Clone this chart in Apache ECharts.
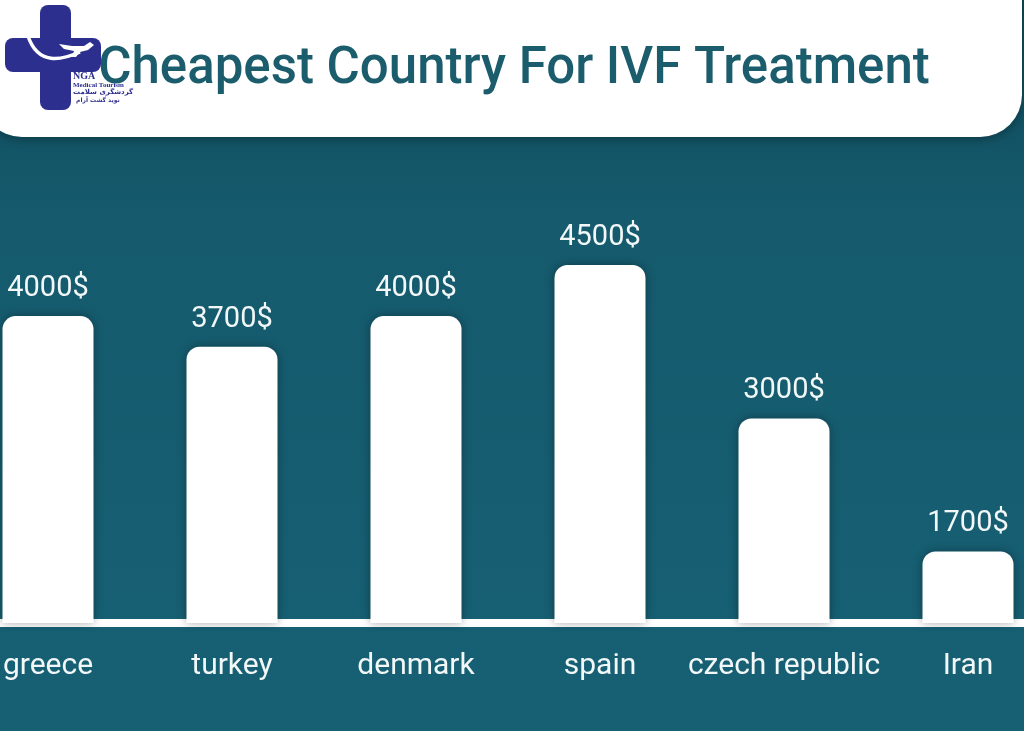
<!DOCTYPE html>
<html>
<head>
<meta charset="utf-8">
<script src="https://cdn.jsdelivr.net/npm/echarts@6/dist/echarts.min.js"></script>
<style>
html,body{margin:0;padding:0;background:#165c70;}
#c{width:1024px;height:731px;}
</style>
</head>
<body>
<div id="c"></div>
<script>
const titleText = 'Cheapest Country For IVF Treatment';
const categories = ['greece', 'turkey', 'denmark', 'spain', 'czech republic', 'Iran'];
const costs = [4000, 3700, 4000, 4500, 3000, 1700];
const valueSuffix = '$';

const chart = echarts.init(document.getElementById('c'));
const Z = 20;
const option = {
  backgroundColor: {
    type: 'linear', x: 0, y: 0, x2: 0, y2: 1,
    colorStops: [{offset: 0, color: '#0f4c5d'}, {offset: 0.3, color: '#155a6d'}, {offset: 1, color: '#176074'}]
  },
  animation: false,
  grid: {left: -44, width: 1104, top: 111.5, bottom: 108, outerBoundsMode: 'none', containLabel: false},
  xAxis: {
    type: 'category',
    data: categories,
    axisLine: {show: true, lineStyle: {color: '#ffffff', width: 8}},
    axisTick: {show: false},
    axisLabel: {color: '#f2f7f8', fontSize: 30, fontFamily: 'Roboto', margin: 28, interval: 0}
  },
  yAxis: {
    type: 'value', min: 1000, max: 6000,
    show: false, splitLine: {show: false}
  },
  series: [{
    type: 'bar',
    data: costs,
    barWidth: 91,
    itemStyle: {color: '#ffffff', borderRadius: [13, 13, 0, 0], shadowColor: 'rgba(0,0,0,0.35)', shadowBlur: 10},
    label: {
      show: true, position: 'top', distance: 13,
      color: '#f2f7f8', fontSize: 29, fontFamily: 'Roboto',
      formatter: p => p.value + valueSuffix
    }
  }],
  graphic: [
    {type: 'rect', shape: {x: -20, y: -60, width: 1042, height: 197, r: 42},
     style: {fill: '#ffffff', shadowColor: 'rgba(0,0,0,0.35)', shadowBlur: 12, shadowOffsetY: 2}, z: 10},
    {type: 'text', x: 514, y: 70, z: 11,
     style: {text: titleText, fill: '#1b5d6c', font: '500 51px Roboto', align: 'center', verticalAlign: 'middle'}},
    // logo
    {type: 'rect', z: Z, shape: {x: 40, y: 5, width: 31, height: 105, r: 8}, style: {fill: '#2d2f8f'}},
    {type: 'rect', z: Z, shape: {x: 5, y: 38, width: 96, height: 34, r: 8}, style: {fill: '#2d2f8f'}},
    {type: 'bezierCurve', z: Z + 1, shape: {x1: 28, y1: 36, cpx1: 38, cpy1: 66, x2: 80, y2: 52, cpx2: 62, cpy2: 60},
     style: {stroke: '#ffffff', lineWidth: 3.5, fill: null}},
    {type: 'polygon', z: Z + 1, shape: {points: [[59, 44], [72, 46], [84, 46], [90, 42], [94, 45], [88, 50], [80, 52], [76, 57], [72, 57], [74, 51], [64, 49]]}, style: {fill: '#ffffff'}},
    {type: 'text', z: Z + 2, x: 73, y: 71, style: {text: 'NGA', fill: '#2d2f8f', font: 'bold 10px "Liberation Serif"'}},
    {type: 'text', z: Z + 2, x: 73, y: 82, style: {text: 'Medical Tourism', fill: '#2d2f8f', font: 'bold 7px "Liberation Serif"'}},
    {type: 'text', z: Z + 2, x: 73, y: 89, style: {text: 'گردشگری سلامت', fill: '#2d2f8f', font: 'bold 7px "DejaVu Sans"'}},
    {type: 'text', z: Z + 2, x: 76, y: 97, style: {text: 'نوید گشت آرام', fill: '#2d2f8f', font: 'bold 6px "DejaVu Sans"'}}
  ]
};
chart.setOption(option);
</script>
</body>
</html>
